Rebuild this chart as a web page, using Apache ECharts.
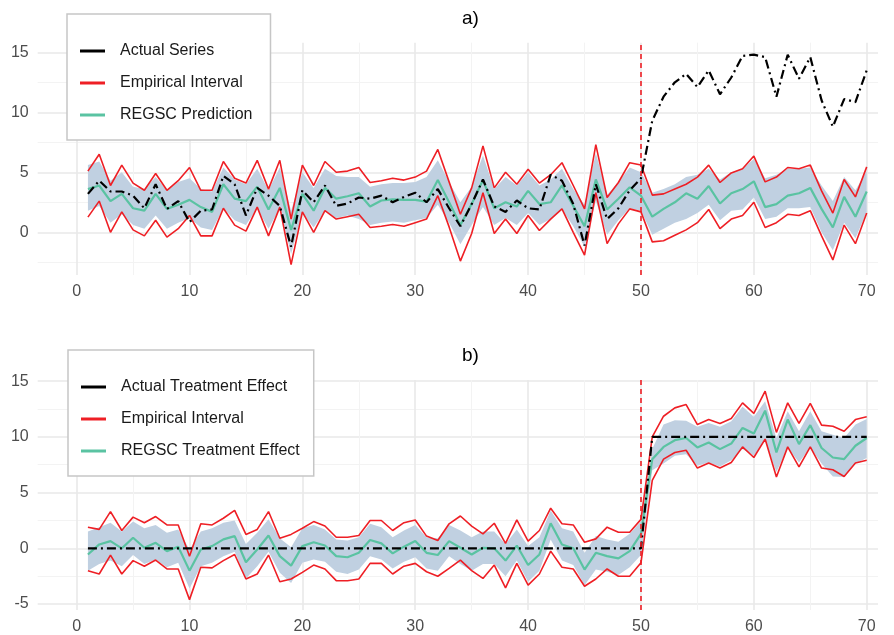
<!DOCTYPE html>
<html>
<head>
<meta charset="utf-8">
<script src="https://cdn.jsdelivr.net/npm/echarts@6/dist/echarts.min.js"></script>
<style>
  html, body { margin: 0; padding: 0; background: #fff; }
  #chart { width: 894px; height: 635px; }
</style>
</head>
<body>
<div id="chart"></div>
<script>
// time periods, treatment starts at 50
const periods = [1,2,3,4,5,6,7,8,9,10,11,12,13,14,15,16,17,18,19,20,
  21,22,23,24,25,26,27,28,29,30,31,32,33,34,35,36,37,38,39,40,
  41,42,43,44,45,46,47,48,49,50,51,52,53,54,55,56,57,58,59,60,
  61,62,63,64,65,66,67,68,69,70];
const treatStart = 50;

// ---- panel a) ----
const actualSeries = [3.2,4.3,3.4,3.4,3.05,2.0,4.0,1.95,2.6,0.85,
  1.8,1.9,4.7,4.0,1.4,3.7,3.05,2.2,-1.2,3.5,
  2.5,3.9,2.2,2.4,2.9,2.8,3.05,2.5,2.95,3.3,
  2.5,3.6,2.0,0.5,2.35,4.4,2.15,1.7,2.65,2.0,
  1.9,4.8,4.3,2.35,-1.1,4.0,1.1,2.0,3.5,4.5,
  9.3,11.3,12.5,13.2,12.1,13.5,11.5,12.9,14.7,14.8,
  14.6,11.3,14.8,12.8,14.6,11.0,8.8,11.1,10.85,13.5];
const intervalUpperA = [5.1,6.5,3.9,5.6,4.1,3.5,4.9,3.5,4.3,5.4,
  3.5,3.5,5.9,4.5,4.1,6.0,3.6,6.0,1.1,5.6,
  3.9,5.9,5.0,5.1,5.4,4.15,4.3,4.5,4.35,4.6,
  5.1,6.9,4.2,1.5,3.7,7.2,3.7,5.0,4.0,5.25,
  4.1,4.8,5.8,3.9,1.95,7.3,2.9,4.15,5.8,5.6,
  3.1,3.2,3.6,4.0,4.6,5.6,4.15,4.95,5.3,6.35,
  4.2,4.6,5.4,5.3,5.6,3.45,1.6,4.4,2.95,5.45];
const intervalLowerA = [1.26,2.6,0.0,1.7,0.2,-0.3,1.0,-0.4,0.3,1.4,
  -0.3,-0.3,2.0,0.6,0.1,2.1,-0.3,2.1,-2.7,1.7,
  0.0,1.8,1.1,1.3,1.5,0.4,0.5,0.65,0.5,0.8,
  1.1,3.05,0.45,-2.4,-0.1,3.3,-0.1,1.1,-0.1,1.4,
  0.15,1.1,1.95,0.0,-1.9,3.3,-0.95,0.7,1.95,1.7,
  -0.8,-0.7,-0.25,0.2,0.8,1.9,0.3,1.1,1.4,2.5,
  0.4,0.8,1.5,1.4,1.8,-0.3,-2.3,0.6,-0.95,1.6];
const predictionA = [3.6,3.9,2.6,3.2,2.0,1.8,3.2,1.95,2.3,2.7,
  2.1,1.7,4.0,2.8,2.6,3.8,1.9,3.7,0.2,3.2,
  1.8,3.7,2.8,3.0,3.25,2.15,2.65,2.75,2.7,2.7,
  2.55,4.35,2.5,0.6,2.35,4.35,2.0,2.5,2.15,3.45,
  2.35,2.5,3.9,2.2,0.5,4.4,1.9,2.8,3.75,3.05,
  1.3,1.95,2.5,3.25,2.8,3.85,2.4,3.25,3.6,4.25,
  2.1,2.35,3.05,3.25,3.7,1.95,0.4,2.95,1.3,3.4];
const bandUpperA = [5.6,5.9,4.3,5.0,3.8,3.6,4.6,3.5,4.2,4.5,
  3.6,3.4,5.4,4.4,4.0,5.3,3.5,5.4,1.8,5.0,
  3.7,5.3,4.7,4.6,4.6,3.8,4.0,4.1,4.1,4.2,
  4.6,6.0,4.2,2.5,3.8,6.4,3.6,4.6,3.9,5.0,
  3.9,4.4,5.3,3.6,2.3,6.6,3.1,4.2,5.4,5.0,
  3.3,3.6,4.0,4.6,4.8,5.3,4.4,5.0,5.3,6.1,
  4.5,4.8,5.3,5.3,5.4,3.9,2.6,4.6,3.5,5.1];
const bandLowerA = [1.8,2.2,0.8,1.5,0.6,0.3,1.4,0.3,0.8,1.2,
  0.4,0.2,2.0,1.0,0.6,2.0,0.3,2.0,-1.8,1.6,
  0.4,1.8,1.2,1.4,1.1,0.6,0.8,0.9,0.8,1.0,
  1.2,2.3,0.8,-1.0,0.6,2.1,0.6,1.2,0.6,1.6,
  0.6,1.1,1.9,0.5,-1.2,2.6,-0.2,1.0,2.0,1.8,
  -0.2,0.3,0.8,1.1,1.6,2.3,1.0,1.8,1.9,2.9,
  1.1,1.3,2.0,2.0,2.1,0.0,-1.5,0.8,-0.5,1.7];

// ---- panel b) ----
const actualEffect = [0,0,0,0,0,0,0,0,0,0, 0,0,0,0,0,0,0,0,0,0,
  0,0,0,0,0,0,0,0,0,0, 0,0,0,0,0,0,0,0,0,0,
  0,0,0,0,0,0,0,0,0,0, 10,10,10,10,10,10,10,10,10,10,
  10,10,10,10,10,10,10,10,10,10];
const intervalUpperB = [1.9,1.7,3.3,1.6,2.8,2.3,2.85,2.1,2.1,-0.7,
  2.2,2.1,2.7,3.4,1.25,1.7,3.3,0.9,1.25,1.8,
  2.4,2.0,1.0,1.0,1.15,2.5,2.5,1.6,2.3,2.55,
  1.1,0.7,2.2,2.9,2.0,1.3,2.25,0.45,2.55,0.65,
  1.6,3.6,2.2,2.1,0.55,0.85,1.9,1.45,1.45,2.6,
  10.0,11.85,12.6,12.9,11.1,11.55,11.2,11.65,13.05,12.1,
  14.1,10.4,13.05,11.2,13.0,11.05,10.95,10.5,11.55,11.8];
const intervalLowerB = [-2.0,-2.3,-0.6,-2.3,-1.1,-1.6,-1.05,-1.85,-1.85,-4.6,
  -1.7,-1.75,-1.1,-0.55,-2.75,-2.3,-0.6,-3.0,-2.75,-2.15,
  -1.5,-1.85,-2.9,-2.9,-2.75,-1.35,-1.35,-2.3,-1.6,-1.35,
  -2.1,-2.5,-1.8,-1.05,-2.0,-2.7,-1.5,-3.55,-1.35,-3.3,
  -2.3,-0.25,-1.7,-1.85,-3.4,-2.75,-1.85,-2.5,-2.5,-1.3,
  6.1,8.0,8.6,8.8,7.2,7.65,7.2,7.7,9.1,8.15,
  9.8,6.4,9.1,7.3,9.1,7.2,7.05,6.45,7.65,7.9];
const effectEstimate = [-0.55,0.35,0.65,0.0,0.95,0.05,0.5,-0.25,0.15,-2.0,
  -0.1,0.2,0.8,1.1,-1.25,-0.1,1.15,-0.7,-1.55,0.2,
  0.55,0.25,-0.7,-0.8,-0.4,0.75,0.45,-0.45,0.15,0.65,
  -0.4,-0.6,0.65,0.05,-0.55,0.05,0.0,-1.1,0.25,-1.5,
  -0.55,2.25,0.35,0.0,-1.9,-0.4,-0.7,-0.9,-0.25,1.3,
  8.0,9.1,9.7,9.9,9.05,9.5,8.9,9.4,10.8,10.3,
  12.35,8.6,11.55,9.35,11.05,9.0,8.15,8.0,9.2,9.9];
const bandUpperB = [1.5,1.9,2.3,1.5,2.4,1.8,2.1,1.4,1.7,-0.1,
  1.5,1.8,2.3,2.5,0.4,1.4,2.6,0.9,0.1,1.8,
  2.1,1.7,0.8,0.7,1.0,2.2,1.9,1.0,1.6,2.1,
  1.0,0.9,2.1,1.6,1.0,1.5,1.5,0.4,1.7,0.2,
  1.0,3.4,1.8,1.5,-0.4,1.1,0.8,0.6,1.3,2.4,
  8.9,11.1,11.5,11.45,10.9,11.25,10.9,11.4,12.7,11.8,
  13.2,9.9,12.3,10.5,12.3,10.5,10.2,9.9,11.1,11.6];
const bandLowerB = [-2.0,-1.4,-1.1,-1.6,-0.6,-1.4,-1.0,-1.7,-1.3,-3.6,
  -1.6,-1.3,-0.7,-0.3,-2.7,-1.6,-0.3,-2.2,-3.1,-1.3,
  -1.0,-1.2,-2.1,-2.3,-1.9,-0.7,-1.0,-1.8,-1.2,-0.8,
  -1.8,-2.0,-0.7,-1.4,-2.0,-1.4,-1.4,-2.5,-1.1,-3.0,
  -2.0,0.8,-1.1,-1.5,-3.3,-1.9,-2.1,-2.4,-1.7,-0.6,
  7.0,7.6,8.3,8.45,7.4,7.7,7.35,7.9,8.9,8.3,
  9.65,6.85,9.05,7.7,9.05,7.6,6.45,6.4,7.6,8.1];

const FONT = 'Liberation Sans, Arial, sans-serif';
const RED = '#ee1f25';
const GREEN = '#5ac3a2';
const BAND = '#c0d0e1';

function pts(ys) { return ys.map((y, i) => [periods[i], y]); }

function panelSeries(k, names, actual, upper, lower, pred, bUp, bLo) {
  const base = { type: 'line', xAxisIndex: k, yAxisIndex: k, symbol: 'none',
    showSymbol: false, animation: false, emphasis: { disabled: true }, silent: true };
  const line = (name, data, color, width, dash) => Object.assign({}, base, {
    name: name, data: pts(data), itemStyle: { color: color },
    lineStyle: { color: color, width: width, type: dash || 'solid' }
  });
  // shaded band drawn as one polygon through the axes' scales
  const band = {
    type: 'custom', xAxisIndex: k, yAxisIndex: k, silent: true, animation: false,
    data: [[periods[0], bUp[0]]],
    renderItem: function (params, api) {
      const top = bUp.map((v, i) => api.coord([periods[i], v]));
      const bottom = bLo.map((v, i) => api.coord([periods[i], v])).reverse();
      return { type: 'polygon', shape: { points: top.concat(bottom) },
        style: { fill: BAND, stroke: null } };
    }
  };
  return [
    band,
    line(names[1], upper, RED, 1.6),
    line(names[1], lower, RED, 1.6),
    line(names[2], pred, GREEN, 2.2),
    Object.assign(line(names[0], actual, '#000000', 2.2, [9, 4, 2, 4]), {
      markLine: { symbol: 'none', silent: true, label: { show: false },
        lineStyle: { color: RED, width: 1.6, type: [5, 4] },
        data: [{ xAxis: treatStart }] }
    })
  ];
}

const namesA = ['Actual Series', 'Empirical Interval', 'REGSC Prediction'];
const namesB = ['Actual Treatment Effect', 'Empirical Interval', 'REGSC Treatment Effect'];

function xAxisFor(k) {
  return { type: 'value', gridIndex: k, min: -3.45, max: 71, minInterval: 10, maxInterval: 10,
    axisLine: { show: false }, axisTick: { show: false },
    axisLabel: { fontSize: 16, color: '#4d4d4d', fontFamily: FONT, margin: 9,
      formatter: v => (v % 10 === 0 ? String(v) : '') },
    splitLine: { show: true, showMinLine: false, showMaxLine: false,
      lineStyle: { color: '#e9e9e9', width: 1.6 } },
    minorTick: { show: false, splitNumber: 2 },
    minorSplitLine: { show: true, lineStyle: { color: '#f3f3f3', width: 1 } } };
}
function yAxisFor(k, min, max) {
  return { type: 'value', gridIndex: k, min: min, max: max, minInterval: 5, maxInterval: 5,
    axisLine: { show: false }, axisTick: { show: false },
    axisLabel: { fontSize: 16, color: '#4d4d4d', fontFamily: FONT, margin: 9,
      formatter: v => (v % 5 === 0 ? String(v) : '') },
    splitLine: { show: true, showMinLine: false, showMaxLine: false,
      lineStyle: { color: '#e9e9e9', width: 1.6 } },
    minorTick: { show: false, splitNumber: 2 },
    minorSplitLine: { show: true, lineStyle: { color: '#f3f3f3', width: 1 } } };
}
function legendFor(names, left, top, padRight) {
  return { orient: 'vertical', left: left, top: top, data: names, selectedMode: false,
    icon: 'rect', itemWidth: 25, itemHeight: 3, itemGap: 14,
    padding: [28, padRight, 16, 13], borderColor: '#c6c6c6', borderWidth: 1.5,
    backgroundColor: '#ffffff', itemStyle: { borderWidth: 0 },
    textStyle: { fontSize: 16, color: '#1a1a1a', fontFamily: FONT, lineHeight: 18,
      padding: [0, 0, 0, 10] } };
}

const chart = echarts.init(document.getElementById('chart'));
chart.setOption({
  backgroundColor: '#ffffff',
  animation: false,
  title: [
    { text: 'a)', left: 462, top: 9, padding: 0,
      textStyle: { fontSize: 19, fontWeight: 'normal', color: '#000', fontFamily: FONT } },
    { text: 'b)', left: 462, top: 346, padding: 0,
      textStyle: { fontSize: 19, fontWeight: 'normal', color: '#000', fontFamily: FONT } }
  ],
  grid: [
    { left: 37.7, right: 16, top: 42.7, height: 232.3 },
    { left: 37.7, right: 16, top: 380, height: 232 }
  ],
  xAxis: [xAxisFor(0), xAxisFor(1)],
  yAxis: [yAxisFor(0, -3.56, 15.8), yAxisFor(1, -5.53, 15.1)],
  legend: [legendFor(namesA, 67, 14, 18), legendFor(namesB, 68, 350, 14)],
  series: panelSeries(0, namesA, actualSeries, intervalUpperA, intervalLowerA, predictionA, bandUpperA, bandLowerA)
    .concat(panelSeries(1, namesB, actualEffect, intervalUpperB, intervalLowerB, effectEstimate, bandUpperB, bandLowerB))
});
window.addEventListener('resize', () => chart.resize());
</script>
</body>
</html>
